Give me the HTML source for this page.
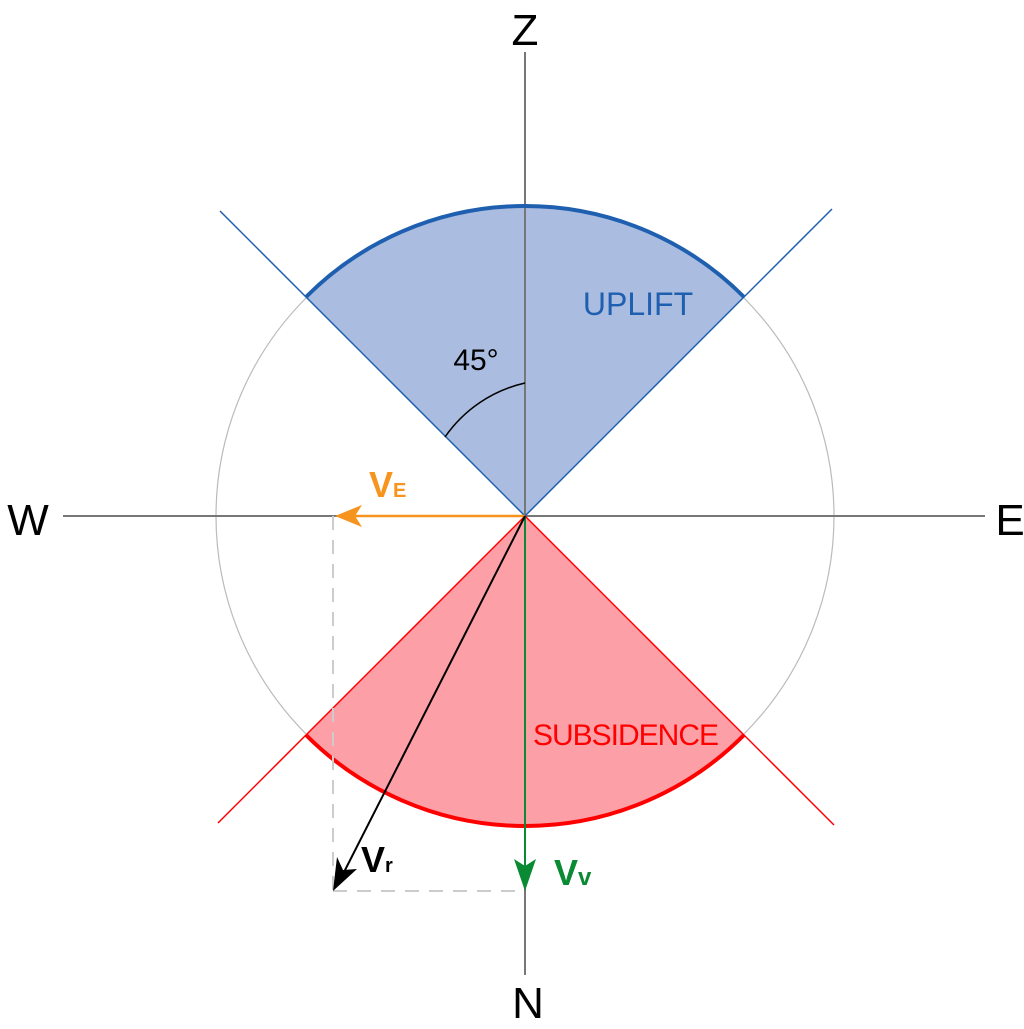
<!DOCTYPE html>
<html><head><style>body{margin:0;background:#fff}svg{display:block}</style></head><body>
<svg width="1024" height="1029" viewBox="0 0 1024 1029" xmlns="http://www.w3.org/2000/svg" font-family="Liberation Sans, sans-serif">
<circle cx="525" cy="516" r="309" fill="none" stroke="#bbb" stroke-width="1.2"/>
<path d="M525,516 L306,297 A309,309 0 0 1 744,297 Z" fill="#aabcdf"/>
<path d="M525,516 L306,735 A309,309 0 0 0 744,735 Z" fill="#fd9fa6"/>
<line x1="63" y1="516" x2="985" y2="516" stroke="#777" stroke-width="2"/>
<line x1="525" y1="52" x2="525" y2="975" stroke="#777" stroke-width="2"/>
<line x1="220" y1="211" x2="525" y2="516" stroke="#1f5fb0" stroke-width="1.5"/>
<line x1="832" y1="209" x2="525" y2="516" stroke="#1f5fb0" stroke-width="1.5"/>
<line x1="218" y1="823" x2="525" y2="516" stroke="#f00" stroke-width="1.5"/>
<line x1="834" y1="825" x2="525" y2="516" stroke="#f00" stroke-width="1.5"/>
<path d="M306,297 A309,309 0 0 1 744,297" fill="none" stroke="#1f5fb0" stroke-width="4"/>
<path d="M306,735 A309,309 0 0 0 744,735" fill="none" stroke="#f00" stroke-width="4"/>
<path d="M525,383 A133,133 0 0 0 445,437" fill="none" stroke="#000" stroke-width="1.5"/>
<line x1="333" y1="516" x2="333" y2="891" stroke="#ccc" stroke-width="2" stroke-dasharray="14,10"/>
<line x1="333" y1="891" x2="525" y2="891" stroke="#ccc" stroke-width="2" stroke-dasharray="14,10"/>
<line x1="525" y1="516" x2="345" y2="516" stroke="#f7941d" stroke-width="2.5"/>
<path d="M335,516 L362,505 L355,516 L362,527 Z" fill="#f7941d"/>
<line x1="525" y1="516" x2="525" y2="870" stroke="#0a8a32" stroke-width="2"/>
<path d="M525,891 L514,859 L525,866 L536,859 Z" fill="#0a8a32"/>
<line x1="525" y1="516" x2="341" y2="878" stroke="#000" stroke-width="2"/>
<path d="M333,891 L337,857 L343,870 L357,869 Z" fill="#000"/>
<text x="525" y="45" font-size="44" text-anchor="middle">Z</text>
<text x="528" y="1018" font-size="44" text-anchor="middle">N</text>
<text x="28" y="535" font-size="44" text-anchor="middle">W</text>
<text x="1010" y="535" font-size="44" text-anchor="middle">E</text>
<text x="638" y="315" font-size="32" fill="#1f5fb0" text-anchor="middle">UPLIFT</text>
<text x="626" y="745" font-size="30" fill="#f00" text-anchor="middle" textLength="186">SUBSIDENCE</text>
<text x="476" y="370" font-size="30" text-anchor="middle">45°</text>
<text x="369" y="497" font-size="36" font-weight="bold" fill="#f7941d">V<tspan font-size="20">E</tspan></text>
<text x="361" y="872" font-size="36" font-weight="bold" fill="#000">V<tspan font-size="20">r</tspan></text>
<text x="554" y="885" font-size="36" font-weight="bold" fill="#0a8a32">V<tspan font-size="24">v</tspan></text>
</svg>
</body></html>
